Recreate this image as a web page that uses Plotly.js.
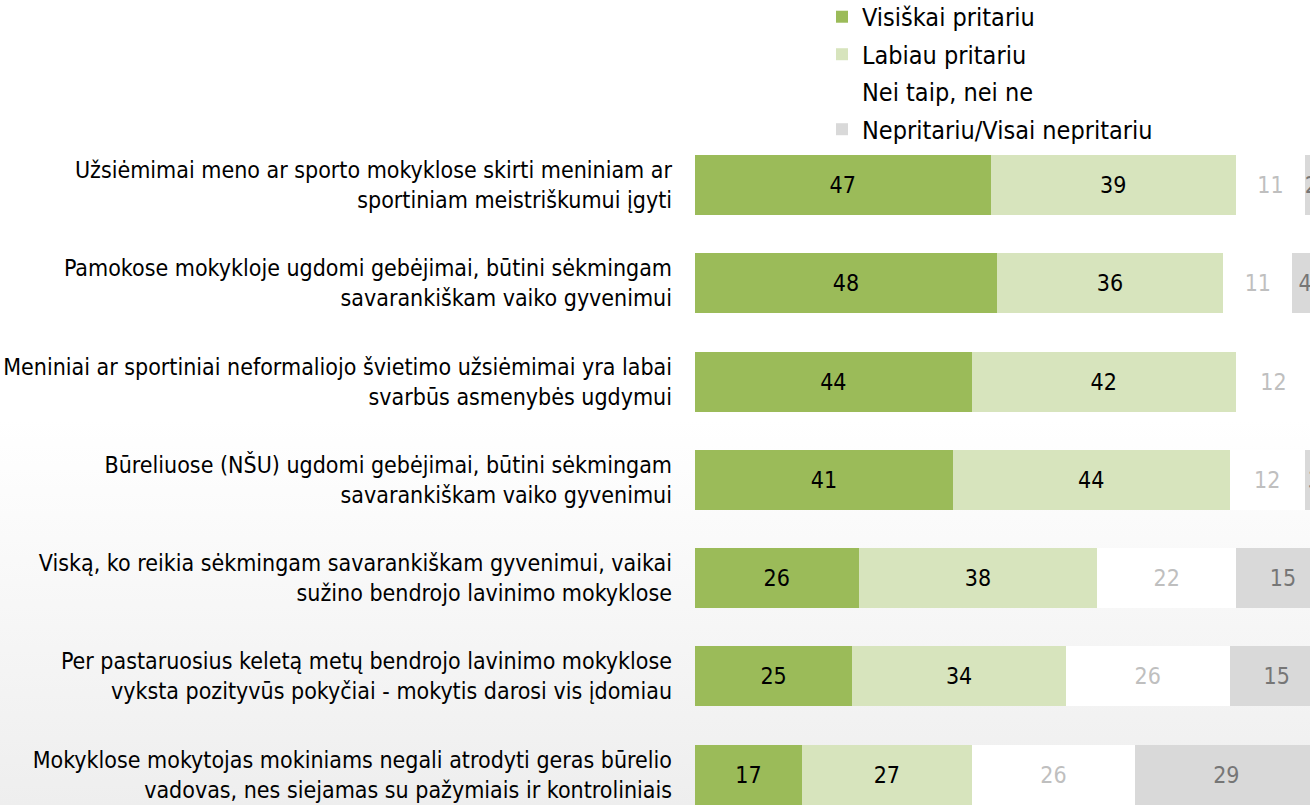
<!DOCTYPE html>
<html>
<head>
<meta charset="utf-8">
<script src="https://cdn.plot.ly/plotly-3.0.1.min.js"></script>
<style>
  html, body { margin: 0; padding: 0; }
  body { width: 1310px; height: 805px; overflow: hidden;
    background: linear-gradient(to bottom, #ffffff 0%, #ffffff 52%, #fbfbfb 64%, #eeeeee 100%); }
  #chart { width: 1310px; height: 805px; }
</style>
</head>
<body>
<div id="chart"></div>
<script>
const categories = [
  "Užsiėmimai meno ar sporto mokyklose skirti meniniam ar<br>sportiniam meistriškumui įgyti",
  "Pamokose mokykloje ugdomi gebėjimai, būtini sėkmingam<br>savarankiškam vaiko gyvenimui",
  "Meniniai ar sportiniai neformaliojo švietimo užsiėmimai yra labai<br>svarbūs asmenybės ugdymui",
  "Būreliuose (NŠU) ugdomi gebėjimai, būtini sėkmingam<br>savarankiškam vaiko gyvenimui",
  "Viską, ko reikia sėkmingam savarankiškam gyvenimui, vaikai<br>sužino bendrojo lavinimo mokyklose",
  "Per pastaruosius keletą metų bendrojo lavinimo mokyklose<br>vyksta pozityvūs pokyčiai - mokytis darosi vis įdomiau",
  "Mokyklose mokytojas mokiniams negali atrodyti geras būrelio<br>vadovas, nes siejamas su pažymiais ir kontroliniais"
];
const seriesNames = ["Visiškai pritariu", "Labiau pritariu", "Nei taip, nei ne", "Nepritariu/Visai nepritariu"];
const visiskai = [47, 48, 44, 41, 26, 25, 17];
const labiau   = [39, 36, 42, 44, 38, 34, 27];
const neiTaip  = [11, 11, 12, 12, 22, 26, 26];
const nepritariu = [2, 4, 2, 3, 15, 15, 29];

const seriesValues = [visiskai, labiau, neiTaip, nepritariu];
const fills = ["#9bbb59", "#d7e4bd", "#ffffff", "#d9d9d9"];
const textColors = ["#000000", "#000000", "#bfbfbf", "#767676"];
const FONT = "'DejaVu Sans Condensed', 'DejaVu Sans', sans-serif";

const traces = seriesValues.map((vals, i) => ({
  type: "bar",
  orientation: "h",
  name: seriesNames[i],
  legendgroup: "g" + i,
  y: categories,
  x: vals,
  text: vals.map(String),
  textposition: "inside",
  insidetextanchor: "middle",
  constraintext: "none",
  textfont: { family: FONT, size: 23, color: textColors[i] },
  marker: { color: fills[i], line: { width: 0 } },
  hoverinfo: "skip"
}));

const layout = {
  width: 1310,
  height: 805,
  barmode: "stack",
  bargap: 0.39,
  paper_bgcolor: "rgba(0,0,0,0)",
  plot_bgcolor: "rgba(0,0,0,0)",
  margin: { l: 695, r: 0, t: 136, b: 0, pad: 0, autoexpand: false },
  font: { family: FONT, size: 23, color: "#000000" },
  showlegend: true,
  legend: {
    x: 0.2065, xanchor: "left",
    y: 1.2123, yanchor: "top",
    orientation: "v",
    traceorder: "grouped",
    tracegroupgap: 2,
    bgcolor: "rgba(0,0,0,0)",
    borderwidth: 0,
    font: { family: FONT, size: 25, color: "#000000" }
  },
  xaxis: {
    range: [0, 97.8],
    showgrid: false, zeroline: false, showline: false,
    showticklabels: false, ticks: "", fixedrange: true
  },
  yaxis: {
    type: "category",
    range: [6.31, -0.5],
    showgrid: false, zeroline: false, showline: false,
    ticks: "",
    ticklabelstandoff: 22,
    tickfont: { family: FONT, size: 23, color: "#000000" },
    fixedrange: true
  }
};

Plotly.newPlot("chart", traces, layout, { displayModeBar: false, staticPlot: true });
</script>
</body>
</html>
